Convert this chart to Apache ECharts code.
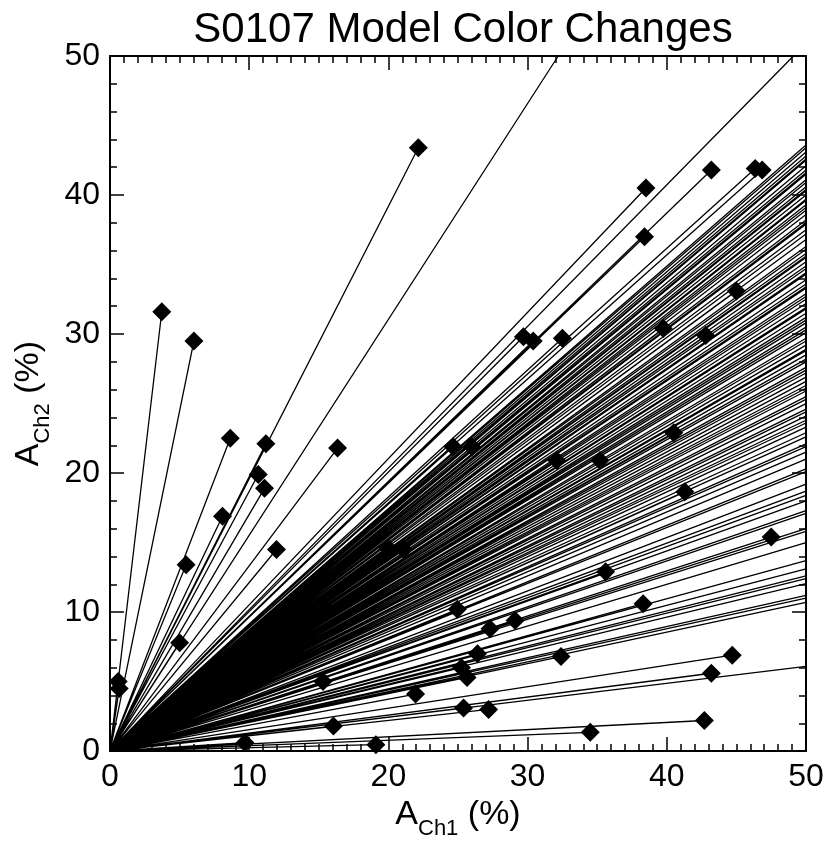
<!DOCTYPE html>
<html>
<head>
<meta charset="utf-8">
<script src="https://cdn.jsdelivr.net/npm/echarts@6/dist/echarts.min.js"></script>
<style>
html,body{margin:0;padding:0;background:#fff;}
#chart{width:827px;height:845px;}
</style>
</head>
<body>
<div id="chart"></div>
<script>
// Diamond end points (A_Ch1 %, A_Ch2 %)
var diamondX = [22.15, 3.72, 6.03, 8.64, 11.2, 10.65, 11.1, 8.08, 16.35, 11.96, 5.47, 5.0, 0.59, 0.66,
  38.5, 38.4, 43.2, 46.35, 46.85, 45.0, 39.75, 42.8, 29.7, 30.4, 32.5,
  24.65, 26.0, 32.1, 35.2, 40.5, 41.3, 19.97, 21.1, 47.5, 35.6, 38.3,
  15.4, 12.6, 24.95, 27.3, 29.1, 26.4, 32.4, 44.7, 43.2, 25.25, 25.65,
  15.3, 21.95, 25.4, 27.2, 16.05, 34.5, 42.7, 9.7, 19.1];
var diamondY = [43.4, 31.6, 29.5, 22.5, 22.1, 19.9, 18.9, 16.9, 21.8, 14.5, 13.4, 7.8, 5.0, 4.5,
  40.5, 37.0, 41.8, 41.9, 41.8, 33.1, 30.4, 29.9, 29.8, 29.5, 29.7,
  21.9, 21.9, 20.9, 20.9, 22.9, 18.65, 14.6, 14.5, 15.4, 12.9, 10.6,
  10.3, 9.2, 10.2, 8.8, 9.4, 7.0, 6.8, 6.9, 5.6, 6.0, 5.3,
  5.0, 4.1, 3.1, 3.0, 1.8, 1.35, 2.2, 0.6, 0.46];

// Rays whose ends lie outside the plot: where they cross the right edge (x = 50)
var rayRightY = [43.6, 43.4, 43.1, 42.8, 42.6, 42.5, 42.1, 41.8, 41.6, 41.5, 41.1, 40.9, 40.6, 40.4,
  40.3, 40.0, 39.7, 39.6, 39.3, 39.1, 38.9, 38.6, 38.2, 38.0, 37.9, 37.5, 37.2, 36.8, 36.3, 36.1,
  35.8, 35.6, 35.5, 35.2, 34.9, 34.7, 34.4, 34.3, 33.9, 33.6, 33.4, 33.3, 32.9, 32.7, 32.5, 32.2,
  31.9, 31.8, 31.5, 31.2, 31.0, 30.8, 30.5, 30.3, 30.1, 29.7, 29.5, 29.2, 28.9, 28.8, 28.5, 28.2,
  28.0, 27.6, 27.4, 27.2, 26.9, 26.6, 26.3, 26.1, 25.9, 25.5, 25.3, 25.0, 24.6, 24.4, 24.1, 23.8,
  23.6, 23.3, 22.9, 22.6, 22.1, 21.9, 21.5, 21.0, 20.3, 20.1, 19.2, 18.7, 18.4, 18.0, 17.3, 17.1,
  16.0, 15.8, 15.0, 13.7, 13.1, 12.6, 12.4, 12.05, 11.2, 11.0, 10.7, 6.1];
// ... and where they cross the top edge (y = 50)
var rayTopX = [32.2, 49.1];

var axisTicks = [0, 10, 20, 30, 40, 50];

var lineData = [];
for (var i = 0; i < diamondX.length; i++) { lineData.push([0, 0], [diamondX[i], diamondY[i]], null); }
for (var j = 0; j < rayRightY.length; j++) { lineData.push([0, 0], [50, rayRightY[j]], null); }
for (var k = 0; k < rayTopX.length; k++) { lineData.push([0, 0], [rayTopX[k], 50], null); }
var pts = diamondX.map(function (x, i) { return [x, diamondY[i]]; });

var FONT = 'Liberation Sans, Arial, sans-serif';
function axisBase(extra) {
  var a = {
    type: 'value', min: axisTicks[0], max: axisTicks[axisTicks.length - 1], interval: 10,
    axisLine: { show: true, onZero: false, lineStyle: { color: '#000', width: 2 } },
    axisTick: { show: true, inside: true, length: 14, lineStyle: { color: '#000', width: 1.5 } },
    minorTick: { show: true, splitNumber: 10, length: 7, lineStyle: { color: '#000', width: 1.5 } },
    splitLine: { show: false },
    axisLabel: { show: true, color: '#000', fontSize: 32, fontFamily: FONT, margin: 10 }
  };
  for (var key in extra) a[key] = extra[key];
  return a;
}

var chart = echarts.init(document.getElementById('chart'), null, { renderer: 'canvas' });
chart.setOption({
  animation: false,
  backgroundColor: '#fff',
  title: {
    text: 'S0107 Model Color Changes', left: 458, top: 4, textAlign: 'center',
    textStyle: { fontSize: 42, fontWeight: 'normal', color: '#000', fontFamily: FONT }
  },
  grid: { left: 110, right: 21, top: 56, bottom: 92, containLabel: false },
  xAxis: [
    axisBase({
      position: 'bottom',
      name: '{a|A}{s|Ch1}{a| (%)}', nameLocation: 'middle', nameGap: 33,
      nameTextStyle: { rich: {
        a: { fontSize: 34, fontFamily: FONT, color: '#000', lineHeight: 50 },
        s: { fontSize: 22, fontFamily: FONT, color: '#000', lineHeight: 22, verticalAlign: 'bottom' }
      } }
    }),
    axisBase({ position: 'top', axisLabel: { show: false } })
  ],
  yAxis: [
    axisBase({
      position: 'left',
      minorTick: { show: true, splitNumber: 5, length: 7, lineStyle: { color: '#000', width: 1.5 } },
      name: '{a|A}{s|Ch2}{a| (%)}', nameLocation: 'middle', nameGap: 52, nameRotate: 90,
      nameTextStyle: { rich: {
        a: { fontSize: 34, fontFamily: FONT, color: '#000', lineHeight: 50 },
        s: { fontSize: 22, fontFamily: FONT, color: '#000', lineHeight: 22, verticalAlign: 'bottom' }
      } }
    }),
    axisBase({ position: 'right', axisLabel: { show: false },
      minorTick: { show: true, splitNumber: 5, length: 7, lineStyle: { color: '#000', width: 1.5 } } })
  ],
  series: [
    {
      type: 'line', data: lineData, connectNulls: false, showSymbol: false, symbol: 'none',
      lineStyle: { color: '#000', width: 1.3 }, clip: true, z: 2, silent: true
    },
    {
      type: 'scatter', data: pts, symbol: 'diamond', symbolSize: 19,
      itemStyle: { color: '#000', opacity: 1 }, clip: true, z: 3, silent: true
    }
  ]
});
</script>
</body>
</html>
